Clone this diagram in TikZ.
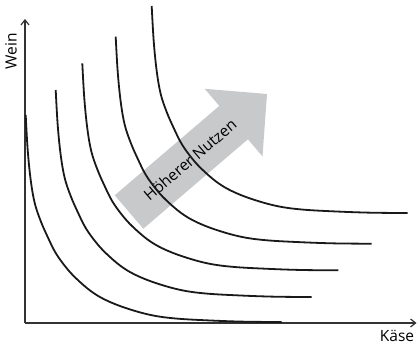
\documentclass[tikz,border=0pt]{standalone}
\usepackage{fontspec}
\setmainfont{Open Sans}
\usetikzlibrary{arrows.meta}
\definecolor{arrowgray}{RGB}{200,201,203}
\begin{document}
\begin{tikzpicture}[x=1pt,y=-1pt,
  axis/.style={line width=1.2pt, draw=black!80, -{Straight Barb[length=5pt,width=8pt]}},
  curve/.style={line width=1.8pt, draw=black!90},
  lbl/.style={font=\fontsize{15.5}{18}\selectfont, inner sep=0pt}]
\useasboundingbox (0,0) rectangle (417,345);
\coordinate (O) at (25,323);
\coordinate (Ytop) at (25,19);
\coordinate (Xend) at (416.5,323);
\fill[arrowgray] (114.7,195.3) -- (219.3,105.9) -- (204.7,88.8) -- (267,94) -- (262.5,156.4) -- (247.9,139.3) -- (143.3,228.7) -- cycle;
\node[lbl, rotate=40.5] (nutzen) at (190,159.8) {Höherer Nutzen};
\draw[axis] (O) -- (Ytop);
\draw[axis] (O) -- (Xend);
\node[lbl, rotate=90, anchor=base] (wein) at (16.5,51) {Wein};
\node[lbl, anchor=base] (kaese) at (397,341.5) {Käse};
\foreach \sx/\sy in {25.7/115, 55.7/90, 82.3/63.3, 115.7/36.7, 151.7/6} {
  \draw[curve, shift={(\sx,\sy)}] plot[smooth, tension=0.6] coordinates {(0,0) (2,35) (5,65) (9,88) (15,106) (22,122) (30,138) (40,152) (50,163) (65,176) (80,185) (100,193) (125,200) (150,203.5) (185,205.5) (220,206.7) (256,207)};
}
\end{tikzpicture}
\end{document}
